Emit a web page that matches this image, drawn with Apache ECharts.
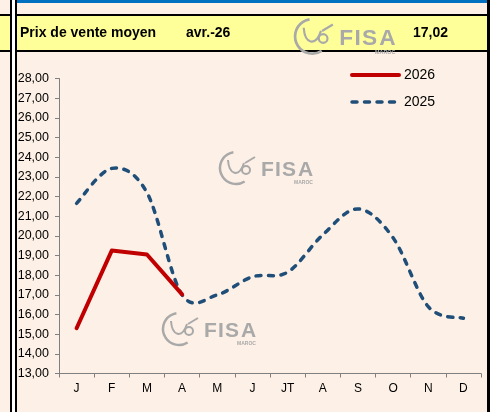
<!DOCTYPE html>
<html>
<head>
<meta charset="utf-8">
<script src="https://cdn.jsdelivr.net/npm/echarts@6/dist/echarts.min.js"></script>
<style>
  html, body { margin: 0; padding: 0; background: #fdf0e6; }
  #chart { width: 497px; height: 412px; }
</style>
</head>
<body>
<div id="chart"></div>
<script>
// months
const months = ['J', 'F', 'M', 'A', 'M', 'J', 'JT', 'A', 'S', 'O', 'N', 'D']
// prix moyen 2026 (jan -> avr)
const prix2026 = [15.30, 19.25, 19.05, 17.02]
// prix moyen 2025
const prix2025 = [21.65, 23.43, 22.20, 17.00, 17.00, 17.92, 18.15, 20.05, 21.37, 19.90, 16.40, 15.81]
// header cells
const headerLabel = 'Prix de vente moyen'
const headerMonth = 'avr.-26'
const headerValue = '17,02'

const FONT = '"Liberation Sans", Arial, sans-serif'
const LOGO_GREY = '#a9a9a9'
const BLUE = '#1f4e79'

// FISA watermark
function logo(x, y, scale) {
  const letters = [['F', 0], ['I', 14], ['S', 21], ['A', 37]].map(([t, dx]) => ({
    type: 'text', x: 42 + dx, y: 9, style: { text: t, font: `bold 21px ${FONT}`, fill: LOGO_GREY }
  }))
  return {
    type: 'group', x, y, scaleX: scale, scaleY: scale, silent: true, z: 1,
    children: [
      { type: 'arc', shape: { cx: 17, cy: 17, r: 16, startAngle: 1.0, endAngle: 4.55 },
        style: { stroke: LOGO_GREY, lineWidth: 2.5, fill: null } },
      { type: 'bezierCurve', shape: { x1: 9, y1: 9, cpx1: 10, cpy1: 24, cpx2: 20, cpy2: 27, x2: 25, y2: 12 },
        style: { stroke: LOGO_GREY, lineWidth: 2, fill: null } },
      { type: 'circle', shape: { cx: 27, cy: 19, r: 4 }, style: { stroke: LOGO_GREY, lineWidth: 2, fill: null } },
      { type: 'line', shape: { x1: 26, y1: 12, x2: 36, y2: 6 }, style: { stroke: LOGO_GREY, lineWidth: 2 } },
      ...letters,
      { type: 'text', x: 75, y: 29, style: { text: 'MAROC', font: `bold 5px ${FONT}`, fill: LOGO_GREY } }
    ]
  }
}

// Excel-like smoothed line (Catmull-Rom through the data points)
function smoothPath(api) {
  const pts = prix2025.map((v, i) => api.coord([i, v]))
  const n = pts.length
  const P = i => pts[Math.max(0, Math.min(n - 1, i))]
  let d = `M${pts[0][0]},${pts[0][1]}`
  for (let i = 0; i < n - 1; i++) {
    const p0 = P(i - 1), p1 = P(i), p2 = P(i + 1), p3 = P(i + 2)
    const c1 = [p1[0] + (p2[0] - p0[0]) / 6, p1[1] + (p2[1] - p0[1]) / 6]
    const c2 = [p2[0] - (p3[0] - p1[0]) / 6, p2[1] - (p3[1] - p1[1]) / 6]
    d += ` C${c1[0]},${c1[1]} ${c2[0]},${c2[1]} ${p2[0]},${p2[1]}`
  }
  return d
}

const chart = echarts.init(document.getElementById('chart'))

chart.setOption({
  backgroundColor: '#fdf0e6',
  animation: false,
  textStyle: { fontFamily: FONT },
  grid: { left: 59, right: 16, top: 78.5, bottom: 38.5 },
  legend: {
    left: 350, top: 68, orient: 'vertical', padding: 0,
    itemWidth: 47, itemHeight: 14, itemGap: 13,
    itemStyle: { opacity: 0 },
    textStyle: { fontSize: 14, color: '#000', fontFamily: FONT },
    data: [
      { name: '2026', lineStyle: { width: 4 } },
      { name: '2025', lineStyle: { width: 3.5 } }
    ]
  },
  xAxis: {
    type: 'category', data: months, boundaryGap: true,
    axisLine: { lineStyle: { color: '#808080', width: 1 } },
    axisTick: { show: true, inside: false, length: 4, lineStyle: { color: '#808080' } },
    axisLabel: { color: '#000', fontSize: 12, margin: 9, fontFamily: FONT },
    splitLine: { show: false }
  },
  yAxis: {
    type: 'value', min: 13, max: 28, interval: 1,
    axisLine: { show: true, lineStyle: { color: '#808080', width: 1 } },
    axisTick: { show: true, length: 4, lineStyle: { color: '#808080' } },
    axisLabel: {
      color: '#000', fontSize: 12.5, margin: 10, fontFamily: FONT,
      formatter: v => v.toFixed(2).replace('.', ',')
    },
    splitLine: { show: false }
  },
  series: [
    {
      name: '2026', type: 'line', data: prix2026, symbol: 'none', z: 4,
      lineStyle: { color: '#c00000', width: 4, cap: 'round', join: 'round' },
      itemStyle: { color: '#c00000' }
    },
    {
      // legend entry only
      name: '2025', type: 'line', data: [], symbol: 'none',
      lineStyle: { color: BLUE, width: 3.5, type: [5, 7.5], cap: 'round' },
      itemStyle: { color: BLUE }
    },
    {
      name: '2025 courbe', type: 'custom', z: 3, silent: true,
      data: prix2025.map((v, i) => [i, v]),
      encode: { x: 0, y: 1 },
      renderItem: (params, api) => {
        if (params.dataIndex !== 0) return null
        return {
          type: 'path',
          shape: { pathData: smoothPath(api) },
          style: { fill: 'none', stroke: BLUE, lineWidth: 3.5, lineDash: [5, 7.5], lineCap: 'round' }
        }
      }
    }
  ],
  graphic: [
    // frame
    { type: 'rect', shape: { x: 17, y: 0, width: 470, height: 3 }, style: { fill: '#0070c0' }, silent: true, z: 5 },
    { type: 'rect', shape: { x: -2, y: 15, width: 490, height: 36 }, style: { fill: '#ffff99', stroke: '#000', lineWidth: 2 }, silent: true, z: 0 },
    { type: 'rect', shape: { x: 10, y: 0, width: 7, height: 412 }, style: { fill: '#fff' }, silent: true, z: 5 },
    { type: 'rect', shape: { x: 10, y: 0, width: 2, height: 412 }, style: { fill: '#000' }, silent: true, z: 6 },
    { type: 'rect', shape: { x: 15, y: 0, width: 2, height: 412 }, style: { fill: '#000' }, silent: true, z: 6 },
    { type: 'rect', shape: { x: 487, y: 0, width: 3, height: 412 }, style: { fill: '#000' }, silent: true, z: 6 },
    { type: 'rect', shape: { x: 490, y: 0, width: 7, height: 412 }, style: { fill: '#fff' }, silent: true, z: 6 },
    // header texts
    { type: 'text', x: 20, y: 33, style: { text: headerLabel, font: `bold 14px ${FONT}`, fill: '#000', textVerticalAlign: 'middle' }, z: 7 },
    { type: 'text', x: 186, y: 33, style: { text: headerMonth, font: `bold 14px ${FONT}`, fill: '#000', textVerticalAlign: 'middle' }, z: 7 },
    { type: 'text', x: 413, y: 33, style: { text: headerValue, font: `bold 14px ${FONT}`, fill: '#000', textVerticalAlign: 'middle' }, z: 7 },
    // watermarks
    logo(294, 18, 1.08),
    logo(219, 151, 1),
    logo(162, 312, 1)
  ]
})
</script>
</body>
</html>
